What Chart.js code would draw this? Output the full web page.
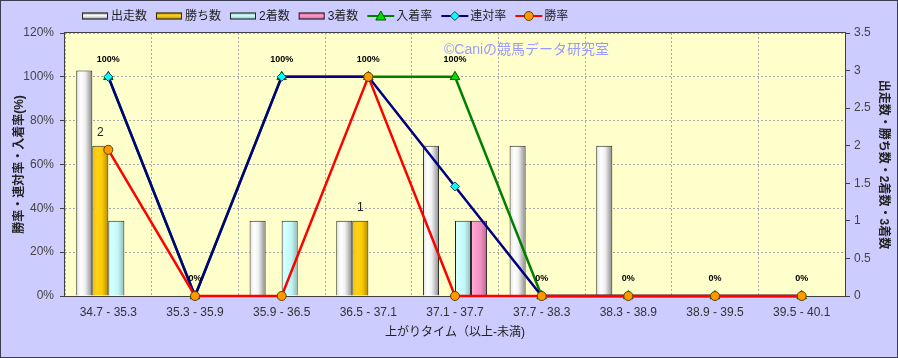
<!DOCTYPE html>
<html>
<head>
<meta charset="utf-8">
<script src="https://cdn.jsdelivr.net/npm/chart.js@4/dist/chart.umd.min.js"></script>
<style>
  html, body { margin: 0; padding: 0; background: #ccccff; }
  #wrap { width: 898px; height: 358px; position: relative; }
</style>
</head>
<body>
<div id="wrap"><canvas id="c" width="898" height="358"></canvas></div>
<script>
const categories = ['34.7 - 35.3','35.3 - 35.9','35.9 - 36.5','36.5 - 37.1','37.1 - 37.7','37.7 - 38.3','38.3 - 38.9','38.9 - 39.5','39.5 - 40.1'];
const starts     = [3, 0, 1, 1, 2, 2, 2, 0, 0];
const wins       = [2, 0, 0, 1, 0, 0, 0, 0, 0];
const seconds    = [1, 0, 1, 0, 1, 0, 0, 0, 0];
const thirds     = [0, 0, 0, 0, 1, 0, 0, 0, 0];
const placeRate  = [100, 0, 100, 100, 100, 0, 0, 0, 0];
const rentaiRate = [100, 0, 100, 100, 50, 0, 0, 0, 0];
const winRate    = [66.7, 0, 0, 100, 0, 0, 0, 0, 0];
const leftTicks  = [0, 20, 40, 60, 80, 100, 120];
const rightTicks = [0, 0.5, 1, 1.5, 2, 2.5, 3, 3.5];

const seriesNames = ['出走数', '勝ち数', '2着数', '3着数', '入着率', '連対率', '勝率'];
const axisTitleLeft = '勝率・連対率・入着率(%)';
const axisTitleRight = '出走数・勝ち数・2着数・3着数';
const axisTitleX = '上がりタイム（以上-未満)';
const watermark = '©Caniの競馬データ研究室';

const FONT = '"Liberation Sans", "Noto Sans CJK JP", sans-serif';
const CAT_PCT = 0.74;

const barStops = [
  [[0, '#e4e4e4'], [0.3, '#ffffff'], [0.55, '#f0f0f0'], [1, '#8a8a8a']],
  [[0, '#f2c200'], [0.3, '#ffd21a'], [0.6, '#ffcc00'], [1, '#b08c00']],
  [[0, '#d8ffff'], [0.3, '#ccffff'], [0.6, '#c4f6f6'], [1, '#8cbcbc']],
  [[0, '#ffb0d8'], [0.3, '#ff99cc'], [0.6, '#f090c0'], [1, '#b86690']]
];
const barSolid = ['#f4f4f4', '#ffcc00', '#ccffff', '#ff99cc'];

function barGradient(c) {
  const chart = c.chart;
  const xs = chart.scales && chart.scales.x;
  const di = c.datasetIndex;
  if (c.type !== 'data' || !xs || !isFinite(xs.left) || xs.right <= xs.left) return barSolid[di];
  const n = categories.length;
  const catW = (xs.right - xs.left) / n;
  const groupW = catW * CAT_PCT;
  const barW = groupW / 4;
  const center = xs.getPixelForValue(c.dataIndex);
  const left = center - groupW / 2 + di * barW;
  const g = chart.ctx.createLinearGradient(left, 0, left + barW, 0);
  barStops[di].forEach(s => g.addColorStop(s[0], s[1]));
  return g;
}

const bgPlugin = {
  id: 'bg',
  beforeDraw(chart) {
    const {ctx, chartArea: a} = chart;
    ctx.save();
    ctx.fillStyle = '#ccccff';
    ctx.fillRect(0, 0, chart.width, chart.height);
    ctx.fillStyle = '#ffffcc';
    ctx.fillRect(a.left, a.top, a.right - a.left, a.bottom - a.top);
    ctx.strokeStyle = '#3c3c50';
    ctx.lineWidth = 1;
    ctx.strokeRect(0.5, 0.5, chart.width - 1, chart.height - 1);
    ctx.restore();
  },
  beforeDatasetsDraw(chart) {
    const {ctx, chartArea: a} = chart;
    ctx.save();
    ctx.strokeStyle = '#404040';
    ctx.lineWidth = 1;
    ctx.strokeRect(Math.round(a.left) - 0.5, Math.round(a.top) - 0.5, Math.round(a.right - a.left) + 1, Math.round(a.bottom - a.top) + 1);
    ctx.font = '14px ' + FONT;
    ctx.fillStyle = '#9999ff';
    ctx.textBaseline = 'middle';
    ctx.textAlign = 'left';
    ctx.fillText(watermark, 444, 50);
    ctx.restore();
  }
};

function drawMarker(ctx, type, x, y) {
  ctx.save();
  ctx.lineWidth = 1;
  if (type === 'triangle') {
    ctx.fillStyle = '#00dd00'; ctx.strokeStyle = '#005500';
    ctx.beginPath(); ctx.moveTo(x, y - 5); ctx.lineTo(x + 5, y + 4); ctx.lineTo(x - 5, y + 4); ctx.closePath();
  } else if (type === 'diamond') {
    ctx.fillStyle = '#00ffff'; ctx.strokeStyle = '#204060';
    ctx.beginPath(); ctx.moveTo(x, y - 4.5); ctx.lineTo(x + 4.5, y); ctx.lineTo(x, y + 4.5); ctx.lineTo(x - 4.5, y); ctx.closePath();
  } else {
    ctx.fillStyle = '#ff9900'; ctx.strokeStyle = '#604000';
    ctx.beginPath(); ctx.arc(x, y, 4.5, 0, Math.PI * 2);
  }
  ctx.fill(); ctx.stroke();
  ctx.restore();
}

const legendPlugin = {
  id: 'customLegend',
  afterDraw(chart) {
    const ctx = chart.ctx;
    const y = 16;
    let x = 82;
    const lineColors = ['#008000', '#000080', '#ff0000'];
    const markers = ['triangle', 'diamond', 'circle'];
    ctx.save();
    ctx.font = '12px ' + FONT;
    ctx.textBaseline = 'middle';
    ctx.textAlign = 'left';
    seriesNames.forEach((name, i) => {
      if (i < 4) {
        const g = ctx.createLinearGradient(0, y - 3.5, 0, y + 3.5);
        g.addColorStop(0, barStops[i][3][1]);
        g.addColorStop(0.45, barStops[i][1][1]);
        g.addColorStop(1, barStops[i][3][1]);
        ctx.fillStyle = g;
        ctx.fillRect(x, y - 3.5, 26, 7);
        ctx.strokeStyle = '#222';
        ctx.lineWidth = 1;
        ctx.strokeRect(x + 0.5, y - 3, 25, 6);
      } else {
        const k = i - 4;
        ctx.strokeStyle = lineColors[k];
        ctx.lineWidth = 2;
        ctx.beginPath(); ctx.moveTo(x, y); ctx.lineTo(x + 27, y); ctx.stroke();
        drawMarker(ctx, markers[k], x + 13.5, y);
      }
      ctx.fillStyle = '#222';
      ctx.fillText(name, x + 29, y + 1);
      x += 29 + ctx.measureText(name).width + 9;
    });
    ctx.restore();
  }
};

const labelPlugin = {
  id: 'valueLabels',
  afterDatasetsDraw(chart) {
    const ctx = chart.ctx;
    ctx.save();
    ctx.textAlign = 'center';
    ctx.textBaseline = 'middle';
    const pm = chart.getDatasetMeta(4);
    ctx.font = 'bold 9px ' + FONT;
    ctx.fillStyle = '#000';
    pm.data.forEach((pt, i) => {
      ctx.fillText(placeRate[i] + '%', pt.x, pt.y - 17);
    });
    const wm = chart.getDatasetMeta(1);
    ctx.font = '12px ' + FONT;
    ctx.fillStyle = '#222';
    wm.data.forEach((bar, i) => {
      if (wins[i] > 0) ctx.fillText(String(wins[i]), bar.x, bar.y - 13);
    });
    ctx.restore();
  }
};

const barDs = (label, data) => ({
  type: 'bar', label, data, yAxisID: 'y2', order: 3,
  backgroundColor: barGradient, borderColor: '#202020', borderWidth: 1,
  borderSkipped: 'bottom', categoryPercentage: CAT_PCT, barPercentage: 1
});

const lineDs = (label, data, color, style, fill, border, radius, order) => ({
  type: 'line', label, data, yAxisID: 'y', order,
  borderColor: color, borderWidth: 2.5, backgroundColor: fill,
  pointStyle: style, pointRadius: radius, pointBackgroundColor: fill,
  pointBorderColor: border, pointBorderWidth: 1, tension: 0, clip: false
});

new Chart(document.getElementById('c'), {
  data: {
    labels: categories,
    datasets: [
      barDs(seriesNames[0], starts),
      barDs(seriesNames[1], wins),
      barDs(seriesNames[2], seconds),
      barDs(seriesNames[3], thirds),
      lineDs(seriesNames[4], placeRate, '#008000', 'triangle', '#00dd00', '#005500', 5.5, 2),
      lineDs(seriesNames[5], rentaiRate, '#000080', 'rectRot', '#00ffff', '#204060', 4.5, 1),
      lineDs(seriesNames[6], winRate, '#ff0000', 'circle', '#ff9900', '#604000', 4.5, 0)
    ]
  },
  options: {
    responsive: false,
    animation: false,
    layout: { padding: { top: 33, left: 0, right: 0, bottom: 0 } },
    plugins: { legend: { display: false }, tooltip: { enabled: false } },
    scales: {
      x: {
        type: 'category',
        offset: true,
        afterFit(s) { s.height = 62; },
        grid: { color: '#a8a8a8', lineWidth: 1, drawTicks: false, offset: true },
        border: { display: false, dash: [2, 2] },
        ticks: { color: '#333', font: { size: 12, family: FONT }, padding: 9, maxRotation: 0, autoSkip: false },
        title: { display: true, text: axisTitleX, color: '#222', font: { size: 12, family: FONT }, padding: { top: 0, bottom: 18 } }
      },
      y: {
        position: 'left',
        min: 0, max: 120,
        afterFit(s) { s.width = 65; },
        afterBuildTicks(s) { s.ticks = leftTicks.map(v => ({ value: v })); },
        grid: { color: '#a8a8a8', lineWidth: 1, drawTicks: true, tickLength: 5, tickColor: '#404040' },
        border: { display: false, dash: [2, 2] },
        ticks: { color: '#444', font: { size: 12, family: FONT }, padding: 6, callback: v => v + '%' },
        title: { display: true, text: axisTitleLeft, color: '#222', font: { size: 12, weight: 'bold', family: FONT }, padding: { top: 12, bottom: 0 } }
      },
      y2: {
        position: 'right',
        min: 0, max: 3.5,
        afterFit(s) { s.width = 53; },
        afterBuildTicks(s) { s.ticks = rightTicks.map(v => ({ value: v })); },
        grid: { drawOnChartArea: false, drawTicks: true, tickLength: 5, tickColor: '#404040', color: '#404040' },
        border: { display: false },
        ticks: { color: '#444', font: { size: 12, family: FONT }, padding: 4, callback: v => String(v) },
        title: { display: true, text: axisTitleRight, color: '#222', font: { size: 12, weight: 'bold', family: FONT }, padding: { top: 7, bottom: 0 } }
      }
    }
  },
  plugins: [bgPlugin, labelPlugin, legendPlugin]
});
</script>
</body>
</html>
